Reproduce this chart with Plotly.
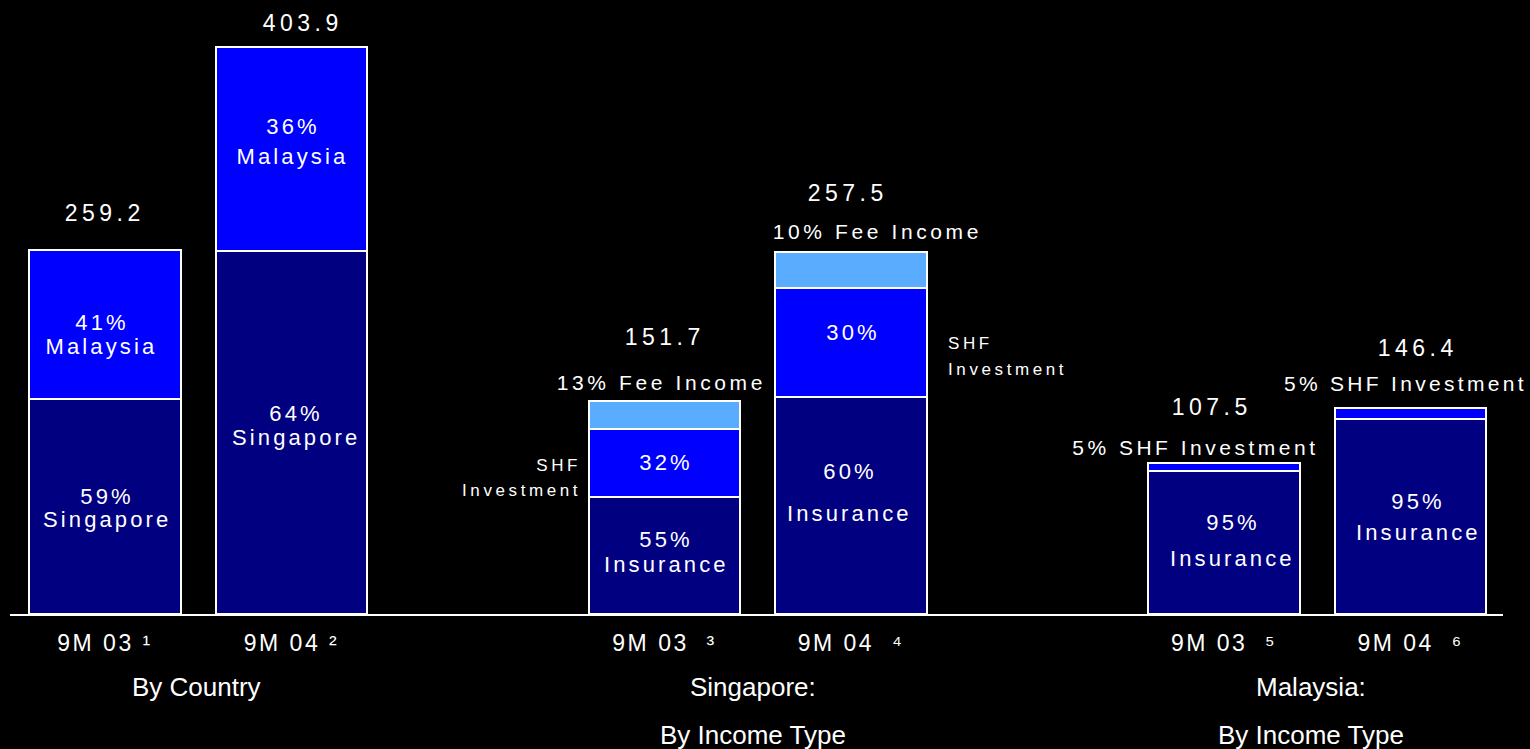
import json
import plotly.graph_objects as go

# Operating revenue, 9M 03 vs 9M 04 (S$m)
periods = ["9M 03 ¹", "9M 04 ²", "9M 03  ³", "9M 04  ⁴", "9M 03  ⁵", "9M 04  ⁶"]
positions = [0, 1, 3, 4, 6, 7]
totals = [259.2, 403.9, 151.7, 257.5, 107.5, 146.4]

# share of each total, bottom -> top
bottom_pct = [59, 64, 55, 60, 95, 95]
middle_pct = [41, 36, 32, 30, 5, 5]
top_pct = [None, None, 13, 10, None, None]

bottom_names = ["Singapore", "Singapore", "Insurance", "Insurance", "Insurance", "Insurance"]
middle_names = ["Malaysia", "Malaysia", "SHF Investment", "SHF Investment",
                "SHF Investment", "SHF Investment"]
top_names = [None, None, "Fee Income", "Fee Income", None, None]

group_lines = [["By Country"], ["Singapore:", "By Income Type"], ["Malaysia:", "By Income Type"]]
group_centers = [0.5, 3.5, 6.5]

NAVY = "#000080"
BLUE = "#0000FF"
SKY = "#5AACFF"
FONT = "Liberation Sans, Arial, sans-serif"
BAR_W = 0.81


def seg(total, pct):
    return None if pct is None else total * pct / 100.0


bottom_vals = [seg(t, p) for t, p in zip(totals, bottom_pct)]
middle_vals = [seg(t, p) for t, p in zip(totals, middle_pct)]
top_vals = [seg(t, p) for t, p in zip(totals, top_pct)]

fig = go.Figure()
for vals, color in [(bottom_vals, NAVY), (middle_vals, BLUE), (top_vals, SKY)]:
    fig.add_trace(go.Bar(
        x=positions, y=vals, width=BAR_W,
        marker=dict(color=color, line=dict(color="white", width=2)),
        hoverinfo="skip", showlegend=False,
    ))

annotations = []
spacing = []  # letter spacing (px) for each annotation


def add(x, y, text, size, sp, xshift=0, yshift=0, xanchor="center", align="center",
        xref="x", yref="y"):
    if xanchor == "center":
        xshift += sp / 2.0
    elif xanchor == "right":
        xshift += sp
    annotations.append(dict(x=x, y=y, xref=xref, yref=yref, text=text, showarrow=False,
                            xanchor=xanchor, yanchor="middle", align=align,
                            xshift=xshift, yshift=yshift,
                            font=dict(family=FONT, size=size, color="white")))
    spacing.append(sp)


# totals above each bar
total_dy = [37, 24, 64, 59, 56, 60]
total_dx = [-2, 9, -2, -5, -14, 5]
for x, t, dy, dx in zip(positions, totals, total_dy, total_dx):
    add(x, t, f"{t:.1f}", 23, 4.5, xshift=dx, yshift=dy)

# captions for the thin top segments: (bar, text, y offset, x offset, tracking)
top_captions = [(2, f"{top_pct[2]}% {top_names[2]}", 18, -5, 3.6),
                (3, f"{top_pct[3]}% {top_names[3]}", 21, 25, 3.6),
                (4, f"{middle_pct[4]}% {middle_names[4]}", 15, -30, 3.5),
                (5, f"{middle_pct[5]}% {middle_names[5]}", 25, -7, 3.3)]
for i, txt, dy, dx, sp in top_captions:
    add(positions[i], totals[i], txt, 21, sp, xshift=dx, yshift=dy)

# labels inside the segments: (bar, which segment, px offsets of the two lines, x offset)
inside = [
    (0, "bottom", -9.6, 13.4, 0),
    (0, "middle", -2.4, 21.6, -5),
    (1, "bottom", -19.4, 4.6, 3),
    (1, "middle", -21.7, 8.3, 0),
    (2, "bottom", -15.4, 9.6, 0),
    (2, "middle", 0.3, None, 0),
    (3, "bottom", -33.5, 8.5, -3),
    (3, "middle", -10.6, None, 0),
    (4, "bottom", -19.3, 16.7, 7),
    (5, "bottom", -14.3, 16.7, 6),
]
for i, which, dy1, dy2, dx in inside:
    if which == "bottom":
        mid = bottom_vals[i] / 2
        pct, name = bottom_pct[i], bottom_names[i]
    else:
        mid = bottom_vals[i] + middle_vals[i] / 2
        pct, name = middle_pct[i], middle_names[i]
    add(positions[i], mid, f"{pct}%", 22, 3.1, xshift=dx, yshift=-dy1)
    if dy2 is not None:
        add(positions[i], mid, name, 22, 3.1, xshift=dx, yshift=-dy2)

# SHF Investment captions beside the Singapore bars
for i, side, dys in [(2, "left", (3.3, 28.3)), (3, "right", (0.4, 26.4))]:
    ymid = bottom_vals[i] + middle_vals[i] / 2
    words = middle_names[i].split(" ")
    for word, dy in zip(words, dys):
        if side == "left":
            add(positions[i] - BAR_W / 2, ymid, word, 17, 3.6, xshift=-10, yshift=-dy,
                xanchor="right", align="right")
        else:
            add(positions[i] + BAR_W / 2, ymid, word, 17, 3.6, xshift=19, yshift=-dy,
                xanchor="left", align="left")

# group captions under the axis
group_dx = [-2, -5, -6]
for lines, c, dx in zip(group_lines, group_centers, group_dx):
    for line, py in zip(lines, [-0.1189, -0.1971]):
        add(c, py, line, 26, 0, xshift=dx, yref="paper")

fig.update_layout(
    width=1530, height=749,
    margin=dict(l=10, r=27, t=0, b=135),
    paper_bgcolor="black", plot_bgcolor="black",
    barmode="stack", bargap=0,
    annotations=annotations,
    xaxis=dict(range=[-0.5094, 7.496], tickvals=positions, ticktext=periods,
               showgrid=False, zeroline=False, showline=True,
               linecolor="white", linewidth=2, ticks="", ticklabelstandoff=7,
               tickfont=dict(family=FONT, size=23, color="white")),
    yaxis=dict(range=[0, 437.0], visible=False),
)

# widen the tracking of the chart texts once plotted
post_js = """
var gd = document.getElementById('{plot_id}');
var sp = %s;
gd.querySelectorAll('g.annotation').forEach(function (g) {
  var s = sp[+g.getAttribute('data-index')];
  if (s) { g.querySelectorAll('text').forEach(function (t) { t.style.letterSpacing = s + 'px'; }); }
});
gd.querySelectorAll('g.xtick text').forEach(function (t) { t.style.letterSpacing = '2.5px'; });
""" % json.dumps(spacing)

fig.write_html("out.html", post_script=post_js)
